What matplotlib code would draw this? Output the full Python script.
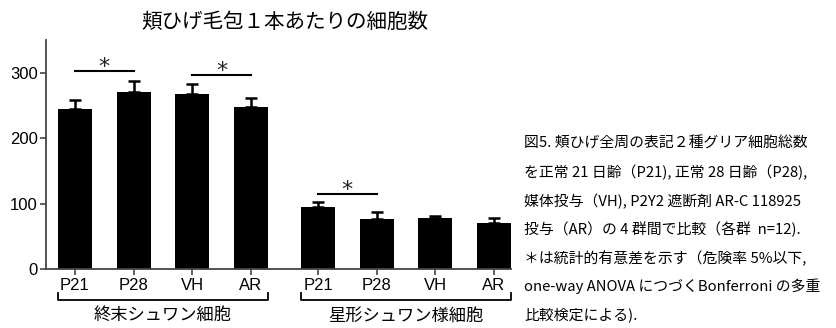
import matplotlib
matplotlib.use('Agg')
import matplotlib.pyplot as plt

plt.rcParams['font.family'] = ['Liberation Sans', 'Noto Sans CJK JP', 'DejaVu Sans']

# --- data ---
labels = ['P21', 'P28', 'VH', 'AR', 'P21', 'P28', 'VH', 'AR']
means = [245, 271, 267, 247, 94, 77, 78, 70]
sems = [14, 17, 16, 14, 8, 10, 3, 8]
groups = ['終末シュワン細胞', '星形シュワン様細胞']
title = '頬ひげ毛包１本あたりの細胞数'
# significance pairs: (bar index a, bar index b, line height)
sig_pairs = [(0, 1, 303), (2, 3, 297), (4, 5, 115)]

caption_lines = [
    '図5. 頬ひげ全周の表記２種グリア細胞総数',
    'を正常 21 日齢（P21), 正常 28 日齢（P28),',
    '媒体投与（VH), P2Y2 遮断剤 AR-C 118925',
    '投与（AR）の 4 群間で比較（各群  n=12).',
    '＊は統計的有意差を示す（危険率 5%以下,',
    'one-way ANOVA につづくBonferroni の多重',
    '比較検定による).',
]


def plot_cells():
    fig = plt.figure(figsize=(8.36, 3.28), dpi=100)
    ax = fig.add_axes([0.055, 0.180, 0.556, 0.698])

    x = [0, 1, 2, 3, 4.15, 5.15, 6.15, 7.15]
    width = 0.58
    ax.bar(x, means, width=width, color='black', zorder=2)
    ax.errorbar(x, means, yerr=[[0] * len(sems), sems], fmt='none',
                ecolor='black', elinewidth=1.8, capsize=4, capthick=1.8, zorder=1)

    ax.set_xlim(-0.495, 7.44)
    ax.set_ylim(0, 350)
    ax.set_yticks([0, 100, 200, 300])
    ax.set_xticks(x)
    ax.set_xticklabels(labels)
    ax.tick_params(axis='both', labelsize=12, width=1.2, length=4, color='#444444')
    ax.tick_params(axis='x', pad=2.5)
    ax.tick_params(axis='y', pad=2)
    for side in ['top', 'right']:
        ax.spines[side].set_visible(False)
    for side in ['left', 'bottom']:
        ax.spines[side].set_linewidth(1.3)
        ax.spines[side].set_color('#444444')

    # significance bars, star baseline sits a little below the line
    for a, b, h in sig_pairs:
        ax.plot([x[a], x[b]], [h, h], color='black', lw=1.5, clip_on=False)
        ax.text((x[a] + x[b]) / 2, h - 3, '*', ha='center', va='baseline',
                fontsize=16, family='DejaVu Sans', color='#222222')

    # group brackets under the tick labels
    trans = ax.get_xaxis_transform()
    for i, name in enumerate(groups):
        left = x[i * 4] - width / 2
        right = x[i * 4 + 3] + width / 2
        ax.plot([left, left, right, right], [-0.105, -0.137, -0.137, -0.105],
                color='black', lw=1.3, transform=trans, clip_on=False)
        ax.text((left + right) / 2, -0.205, name, transform=trans,
                ha='center', va='center', fontsize=12.4, family='Noto Sans CJK JP')

    fig.text(0.341, 0.933, title, ha='center', va='center', fontsize=14.8,
             family='Noto Sans CJK JP')

    # caption on the right
    for i, line in enumerate(caption_lines):
        y = 1 - (144 + i * 28.5) / 328
        fig.text(0.627, y, line, ha='left', va='center', fontsize=10.7,
                 family=['Noto Sans CJK JP', 'DejaVu Sans'])

    fig.savefig('out.png', dpi=100, facecolor='white')


if __name__ == '__main__':
    plot_cells()
